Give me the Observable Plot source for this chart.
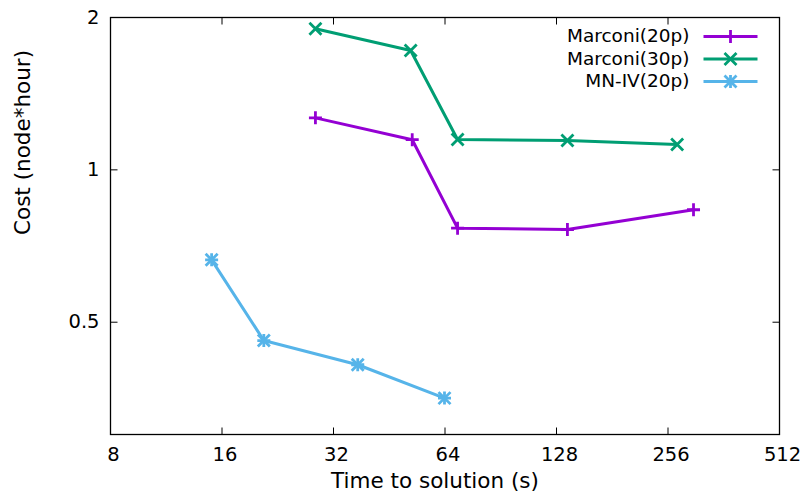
<!DOCTYPE html>
<html><head><meta charset="utf-8">
<script src="https://cdn.jsdelivr.net/npm/d3@7"></script>
<script src="https://cdn.jsdelivr.net/npm/@observablehq/plot@0.6"></script>
<style>body{margin:0;background:#fff} svg{display:block}</style>
</head><body><div id="chart"></div>
<script>
// ---- data ----
const seriesNames = ["Marconi(20p)", "Marconi(30p)", "MN-IV(20p)"];
const seriesColors = ["#9400d3", "#009e73", "#56b4e9"];
const marconi20Time = [28.6, 52.2, 69.2, 137, 300];
const marconi20Cost = [1.267, 1.147, 0.767, 0.762, 0.834];
const marconi30Time = [28.6, 51.7, 69.2, 137, 271];
const marconi30Cost = [1.90, 1.721, 1.148, 1.143, 1.122];
const mn4Time = [15.0, 20.75, 37.2, 63.8];
const mn4Cost = [0.664, 0.460, 0.412, 0.354];
const xTicks = [8, 16, 32, 64, 128, 256, 512];
const xTickLabels = ["8", "16", "32", "64", "128", "256", "512"];
const yTicks = [0.5, 1, 2];
const yTickLabels = ["0.5", "1", "2"];
const xTitle = "Time to solution (s)";
const yTitle = "Cost (node*hour)";

const toRows = (name, t, c) => t.map((v, i) => ({series: name, time: v, cost: c[i]}));
const m20 = toRows(seriesNames[0], marconi20Time, marconi20Cost);
const m30 = toRows(seriesNames[1], marconi30Time, marconi30Cost);
const mn4 = toRows(seriesNames[2], mn4Time, mn4Cost);

// ---- symbols ----
const sym = (f) => ({draw: f});
const tickUp = sym(c => {c.moveTo(0, 0); c.lineTo(0, -7);});
const tickDown = sym(c => {c.moveTo(0, 0); c.lineTo(0, 7);});
const tickRight = sym(c => {c.moveTo(0, 0); c.lineTo(7, 0);});
const tickLeft = sym(c => {c.moveTo(0, 0); c.lineTo(-7, 0);});
const plusSym = sym(c => {c.moveTo(-6.5, 0); c.lineTo(6.5, 0); c.moveTo(0, -6.5); c.lineTo(0, 6.5);});
const timesSym = sym(c => {c.moveTo(-6, -6); c.lineTo(6, 6); c.moveTo(-6, 6); c.lineTo(6, -6);});
const legendLine = sym(c => {c.moveTo(-27, 0); c.lineTo(27, 0);});

const font = "DejaVu Sans";
const seriesData = [m20, m30, mn4];
const seriesSymbols = [[plusSym], [timesSym], [plusSym, timesSym]];

const marks = [
  Plot.frame({stroke: "#000", strokeWidth: 1.3}),
  Plot.dot(xTicks, {x: d => d, frameAnchor: "bottom", symbol: tickUp, stroke: "#000", fill: "none", strokeWidth: 1}),
  Plot.dot(xTicks, {x: d => d, frameAnchor: "top", symbol: tickDown, stroke: "#000", fill: "none", strokeWidth: 1}),
  Plot.dot(yTicks, {y: d => d, frameAnchor: "left", symbol: tickRight, stroke: "#000", fill: "none", strokeWidth: 1}),
  Plot.dot(yTicks, {y: d => d, frameAnchor: "right", symbol: tickLeft, stroke: "#000", fill: "none", strokeWidth: 1}),
  Plot.text(xTicks, {x: d => d, text: (d, i) => xTickLabels[i], frameAnchor: "bottom", dx: 3, dy: 20, lineAnchor: "middle", fontSize: 19.5, fill: "#000"}),
  Plot.text(yTicks, {y: d => d, text: (d, i) => yTickLabels[i], frameAnchor: "left", dx: -11, textAnchor: "end", lineAnchor: "middle", fontSize: 19.5, fill: "#000"}),
  Plot.text([xTitle], {text: d => d, frameAnchor: "bottom", dx: -10, dy: 47, lineAnchor: "middle", fontSize: 21.5, fill: "#000"}),
  Plot.text([yTitle], {text: d => d, frameAnchor: "left", dx: -87, dy: 9, rotate: -90, lineAnchor: "middle", fontSize: 21.5, fill: "#000"})
];

seriesData.forEach((data, k) => {
  marks.push(Plot.line(data, {x: "time", y: "cost", stroke: seriesColors[k], strokeWidth: 3}));
  seriesSymbols[k].forEach(s => marks.push(Plot.dot(data, {x: "time", y: "cost", symbol: s, stroke: seriesColors[k], fill: "none", strokeWidth: 2.8})));
  const dy = 19 + 22.5 * k;
  marks.push(Plot.text([seriesNames[k]], {text: d => d, frameAnchor: "top-right", dx: -90, dy, textAnchor: "end", lineAnchor: "middle", fontSize: 18.5, fill: "#000"}));
  marks.push(Plot.dot([seriesNames[k]], {frameAnchor: "top-right", dx: -49, dy, symbol: legendLine, stroke: seriesColors[k], fill: "none", strokeWidth: 3}));
  seriesSymbols[k].forEach(s => marks.push(Plot.dot([seriesNames[k]], {frameAnchor: "top-right", dx: -49, dy, symbol: s, stroke: seriesColors[k], fill: "none", strokeWidth: 2.8})));
});

const chart = Plot.plot({
  width: 805,
  height: 495,
  marginLeft: 110,
  marginRight: 26,
  marginTop: 17,
  marginBottom: 61,
  style: {fontFamily: font, background: "#fff"},
  x: {type: "log", base: 2, domain: [8, 512], axis: null},
  y: {type: "log", base: 2, domain: [0.3, 2], axis: null},
  marks
});
document.getElementById("chart").appendChild(chart);
</script>
</body></html>
